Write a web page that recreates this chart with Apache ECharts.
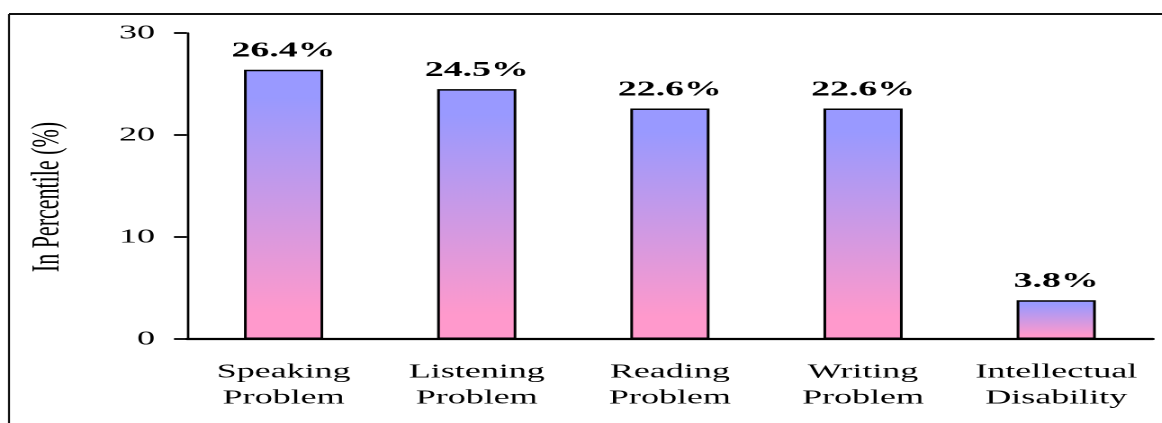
<!DOCTYPE html>
<html>
<head>
<meta charset="utf-8">
<style>
  html, body { margin: 0; padding: 0; background: #fff; overflow: hidden; }
  /* the reference is stretched wide, so draw narrow and scale it out */
  #show-report { width: 645.5px; height: 423px; transform: scaleX(1.8); transform-origin: 0 0; }
</style>
</head>
<body>
<div id="show-report"></div>
<script src="https://cdn.jsdelivr.net/npm/echarts@6/dist/echarts.min.js"></script>
<script>
var categories = ['Speaking\nProblem', 'Listening\nProblem', 'Reading\nProblem', 'Writing\nProblem', 'Intellectual\nDisability'];
var percents = [26.4, 24.5, 22.6, 22.6, 3.8];
var yTicks = { min: 0, max: 30, interval: 10 };
var yTitle = 'In Percentile (%)';

var SX = 1.8;
var serif = '"Liberation Serif", "Times New Roman", serif';

var myChart = echarts.init(document.getElementById('show-report'), null, { devicePixelRatio: 2 });

var option = {
  animation: false,
  backgroundColor: '#fff',
  grid: { left: 187 / SX, right: 10 / SX, top: 33, bottom: 84 },
  xAxis: {
    type: 'category',
    data: categories,
    axisLine: { lineStyle: { color: '#000', width: 2.2 } },
    axisTick: { length: 7, lineStyle: { color: '#000', width: 2 / SX } },
    axisLabel: {
      color: '#000', fontFamily: serif, fontSize: 20, lineHeight: 26,
      margin: 20, interval: 0
    }
  },
  yAxis: {
    type: 'value',
    min: yTicks.min, max: yTicks.max, interval: yTicks.interval,
    splitLine: { show: false },
    axisLine: { show: true, lineStyle: { color: '#000', width: 2.4 / SX } },
    axisTick: { show: true, inside: false, length: 13 / SX, lineStyle: { color: '#000', width: 1.8 } },
    axisLabel: { color: '#000', fontFamily: serif, fontSize: 20, margin: 32 / SX }
  },
  series: [{
    type: 'bar',
    data: percents,
    barWidth: '41%',
    itemStyle: {
      color: new echarts.graphic.LinearGradient(0, 0, 0, 1, [
        { offset: 0, color: '#9999FF' },
        { offset: 0.1, color: '#9999FF' },
        { offset: 0.9, color: '#FF99CC' },
        { offset: 1, color: '#FF99CC' }
      ]),
      borderColor: '#000',
      borderWidth: 1.5
    },
    label: {
      show: true, position: 'top', distance: 8,
      color: '#000', fontFamily: serif, fontSize: 21, fontWeight: 'bold',
      formatter: function (p) { return p.value.toFixed(1) + '%'; }
    }
  }],
  graphic: [
    { type: 'line', shape: { x1: 9 / SX, y1: 14, x2: 800, y2: 14 }, style: { stroke: '#111', lineWidth: 2 } },
    { type: 'line', shape: { x1: 9 / SX, y1: 14, x2: 9 / SX, y2: 600 }, style: { stroke: '#111', lineWidth: 2 / SX } },
    {
      type: 'text', x: 48 / SX, y: 197, rotation: Math.PI / 2,
      style: {
        text: yTitle, fill: '#000', fontFamily: serif, fontSize: 22,
        textAlign: 'center', textVerticalAlign: 'middle'
      }
    }
  ]
};

myChart.setOption(option);
</script>
</body>
</html>
